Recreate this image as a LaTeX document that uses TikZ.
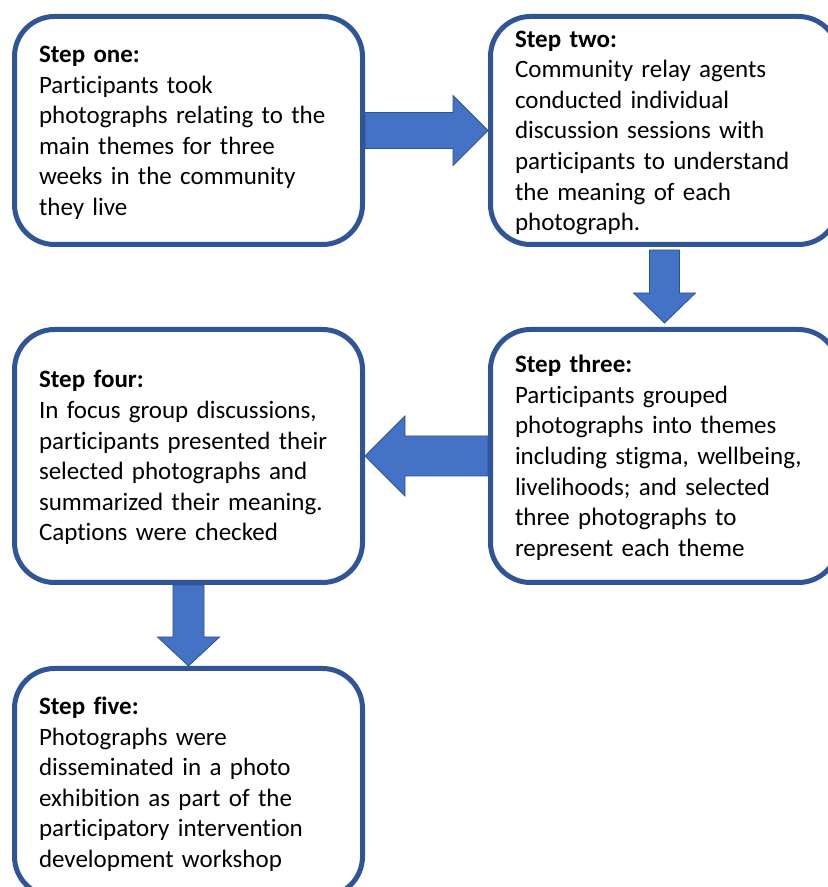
\documentclass[tikz,border=0pt]{standalone}
\usepackage{fontspec}
\setmainfont{Carlito}[Ligatures=NoCommon]
\usetikzlibrary{calc}
\definecolor{boxline}{HTML}{2F5597}
\definecolor{arrowfill}{HTML}{4472C4}
\definecolor{arrowline}{HTML}{2F528F}
\tikzset{
  stepbox/.style={draw=boxline, line width=5pt, fill=white, rounded corners=40pt,
    minimum width=348pt, text width=299pt, inner xsep=24.5pt, inner ysep=0pt,
    align=left, font=\fontsize{25}{30.6}\selectfont,
    execute at begin node=\rule{0pt}{21pt}},
  flowarrow/.style={fill=arrowfill, draw=arrowline, line width=0.8pt}
}
\begin{document}
\begin{tikzpicture}[x=1pt,y=1pt]
\useasboundingbox (0,0) rectangle (828,887);
\clip (0,0) rectangle (828,887);
% the five steps
\node[stepbox, minimum height=228pt] (s1) at (188.5,756.5) {\textbf{Step one:}\\ Participants took\\ photographs relating to the\\ main themes for three\\ weeks in the community\\ they live};
\node[stepbox, minimum height=228pt] (s2) at (664.5,756.5) {\textbf{Step two:}\\ Community relay agents\\ conducted individual\\ discussion sessions with\\ participants to understand\\ the meaning of each\\ photograph.};
\node[stepbox, minimum height=253pt] (s3) at (664.5,431) {\textbf{Step three:}\\ Participants grouped\\ photographs into themes\\ including stigma, wellbeing,\\ livelihoods; and selected\\ three photographs to\\ represent each theme};
\node[stepbox, minimum height=253pt] (s4) at (188.5,431) {\textbf{Step four:}\\ In focus group discussions,\\ participants presented their\\ selected photographs and\\ summarized their meaning.\\ Captions were checked};
\node[stepbox, minimum height=228pt] (s5) at (188.5,104.5) {\textbf{Step five:}\\ Photographs were\\ disseminated in a photo\\ exhibition as part of the\\ participatory intervention\\ development workshop};
% block arrows
\draw[flowarrow] ($(s1.east)+(0,18)$) -- ($(s2.west)+(-35,18)$) -- ($(s2.west)+(-35,35)$) -- (s2.west)
  -- ($(s2.west)+(-35,-35)$) -- ($(s2.west)+(-35,-18)$) -- ($(s1.east)+(0,-18)$) -- cycle;
\draw[flowarrow] ($(s2.south)+(-15,-3)$) -- ($(s3.north)+(-15,34)$) -- ($(s3.north)+(-31,34)$) -- ($(s3.north)+(0,4)$)
  -- ($(s3.north)+(31,34)$) -- ($(s3.north)+(15,34)$) -- ($(s2.south)+(15,-3)$) -- cycle;
\draw[flowarrow] ($(s3.west)+(0,20)$) -- ($(s4.east)+(40,20)$) -- ($(s4.east)+(40,40)$) -- (s4.east)
  -- ($(s4.east)+(40,-40)$) -- ($(s4.east)+(40,-20)$) -- ($(s3.west)+(0,-20)$) -- cycle;
\draw[flowarrow] ($(s4.south)+(-15.5,0)$) -- ($(s5.north)+(-15.5,29)$) -- ($(s5.north)+(-31,29)$) -- (s5.north)
  -- ($(s5.north)+(31,29)$) -- ($(s5.north)+(15.5,29)$) -- ($(s4.south)+(15.5,0)$) -- cycle;
\end{tikzpicture}
\end{document}
